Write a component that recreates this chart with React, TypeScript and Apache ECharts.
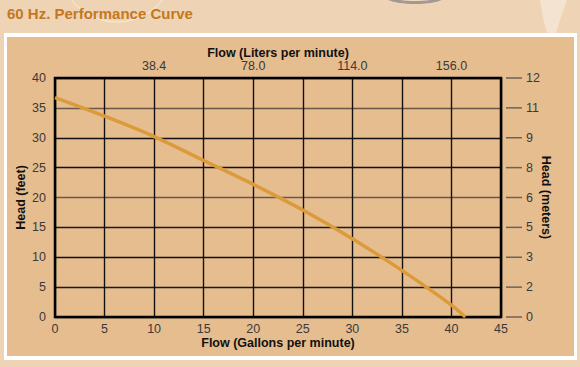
import React, { useEffect, useRef } from "react";
import * as echarts from "echarts";

const flowGpm = [0, 5, 10, 15, 20, 25, 30, 35, 40, 41.4];
const headFeet = [36.7, 33.6, 30.2, 26.2, 22.2, 17.9, 13.1, 7.8, 2.0, 0];
const literTickValues = [10, 20, 30, 40];
const literLabels = ["38.4", "78.0", "114.0", "156.0"];
const meterLabels = ["0", "2", "3", "5", "6", "8", "9", "11", "12"];

const FONT = "'Liberation Sans', Arial, Helvetica, sans-serif";

export default function App() {
  const ref = useRef<HTMLDivElement>(null);
  useEffect(() => {
    document.body.style.margin = "0";
    if (!ref.current) return;
    const chart = echarts.init(ref.current, null, { renderer: "svg" });
    const data = flowGpm.map((x, i) => [x, headFeet[i]]);
    const nameStyle = { color: "#111", fontSize: 12.5, fontWeight: "bold", fontFamily: FONT };
    const labelStyle = { color: "#3a3a3a", fontSize: 12.5, fontFamily: FONT };
    chart.setOption({
      animation: false,
      backgroundColor: "#eed4b4",
      textStyle: { fontFamily: FONT },
      title: {
        text: "60 Hz. Performance Curve",
        left: 2,
        top: 1,
        textStyle: { color: "#c5771f", fontSize: 15, fontWeight: "bold", fontFamily: FONT },
      },
      graphic: [
        { type: "circle", z: -5, shape: { cx: 117, cy: -36, r: 58 }, style: { fill: "none", stroke: "rgba(255,255,255,0.55)", lineWidth: 1 } },
        { type: "ellipse", z: -5, shape: { cx: 415, cy: -4, rx: 31, ry: 8 }, style: { fill: "#a09994" } },
        { type: "ellipse", z: -5, shape: { cx: 415, cy: -6, rx: 29, ry: 7 }, style: { fill: "#efd9bd" } },
        { type: "polygon", z: -5, shape: { points: [[540, 0], [567, 0], [560, 20], [556, 33], [547, 33], [543, 18]] }, style: { fill: "#f4e3d0" } },
        { type: "rect", z: -4, shape: { x: 4, y: 33, width: 573, height: 327 }, style: { fill: "#ffffff" } },
        { type: "rect", z: -3, shape: { x: 7, y: 37, width: 567, height: 319 }, style: { fill: "#e6bd8f" } },
      ],
      grid: {
        left: 55,
        right: 79,
        top: 78,
        bottom: 50,
        show: true,
        borderColor: "#000",
        borderWidth: 2.5,
        backgroundColor: "transparent",
        z: 3,
      },
      xAxis: [
        {
          type: "value",
          position: "bottom",
          min: 0,
          max: 45,
          interval: 5,
          axisLine: { show: false },
          axisTick: { show: false },
          axisLabel: { ...labelStyle, margin: 5 },
          splitLine: { show: true, lineStyle: { color: "#111", width: 1.4 } },
          name: "Flow (Gallons per minute)",
          nameLocation: "middle",
          nameGap: 19,
          nameMoveOverlap: false,
          nameTextStyle: nameStyle,
        },
        {
          type: "value",
          position: "top",
          min: 0,
          max: 45,
          interval: 5,
          axisLine: { show: false },
          axisTick: { show: false },
          splitLine: { show: false },
          axisLabel: {
            ...labelStyle,
            margin: 6,
            formatter: (v: number) => {
              const i = literTickValues.indexOf(v);
              return i >= 0 ? literLabels[i] : "";
            },
          },
          name: "Flow (Liters per minute)",
          nameLocation: "middle",
          nameGap: 18.5,
          nameMoveOverlap: false,
          nameTextStyle: nameStyle,
        },
      ],
      yAxis: [
        {
          type: "value",
          position: "left",
          min: 0,
          max: 40,
          interval: 5,
          axisLine: { show: false },
          axisTick: { show: false },
          axisLabel: { ...labelStyle, margin: 9 },
          splitLine: {
            show: true,
            lineStyle: {
              color: ["#111", "#1a1a1a", "#111", "#1a1a1a", "#6b5848", "#111", "#111", "#6b5848", "#111"],
              width: 1.4,
            },
          },
          name: "Head (feet)",
          nameLocation: "middle",
          nameRotate: 90,
          nameGap: 28,
          nameMoveOverlap: false,
          nameTextStyle: nameStyle,
        },
        {
          type: "value",
          position: "right",
          offset: 5,
          min: 0,
          max: 40,
          interval: 5,
          axisLine: { show: false },
          axisTick: { show: false },
          splitLine: { show: false },
          axisLabel: {
            ...labelStyle,
            margin: 0,
            formatter: (v: number) => "{t|}{n|" + (meterLabels[Math.round(v / 5)] ?? "") + "}",
            rich: {
              t: { width: 16, height: 1.5, backgroundColor: "#6e6258" },
              n: { ...labelStyle, padding: [0, 0, 0, 4] },
            },
          },
          name: "Head (meters)",
          nameLocation: "middle",
          nameRotate: -90,
          nameGap: 33,
          nameMoveOverlap: false,
          nameTextStyle: nameStyle,
        },
      ],
      series: [
        {
          type: "line",
          xAxisIndex: 0,
          yAxisIndex: 0,
          data,
          smooth: 0.3,
          showSymbol: false,
          lineStyle: { color: "#dc9b3b", width: 3.5 },
          z: 5,
        },
      ],
    });
    return () => chart.dispose();
  }, []);
  return <div ref={ref} style={{ width: 580, height: 367 }} />;
}
